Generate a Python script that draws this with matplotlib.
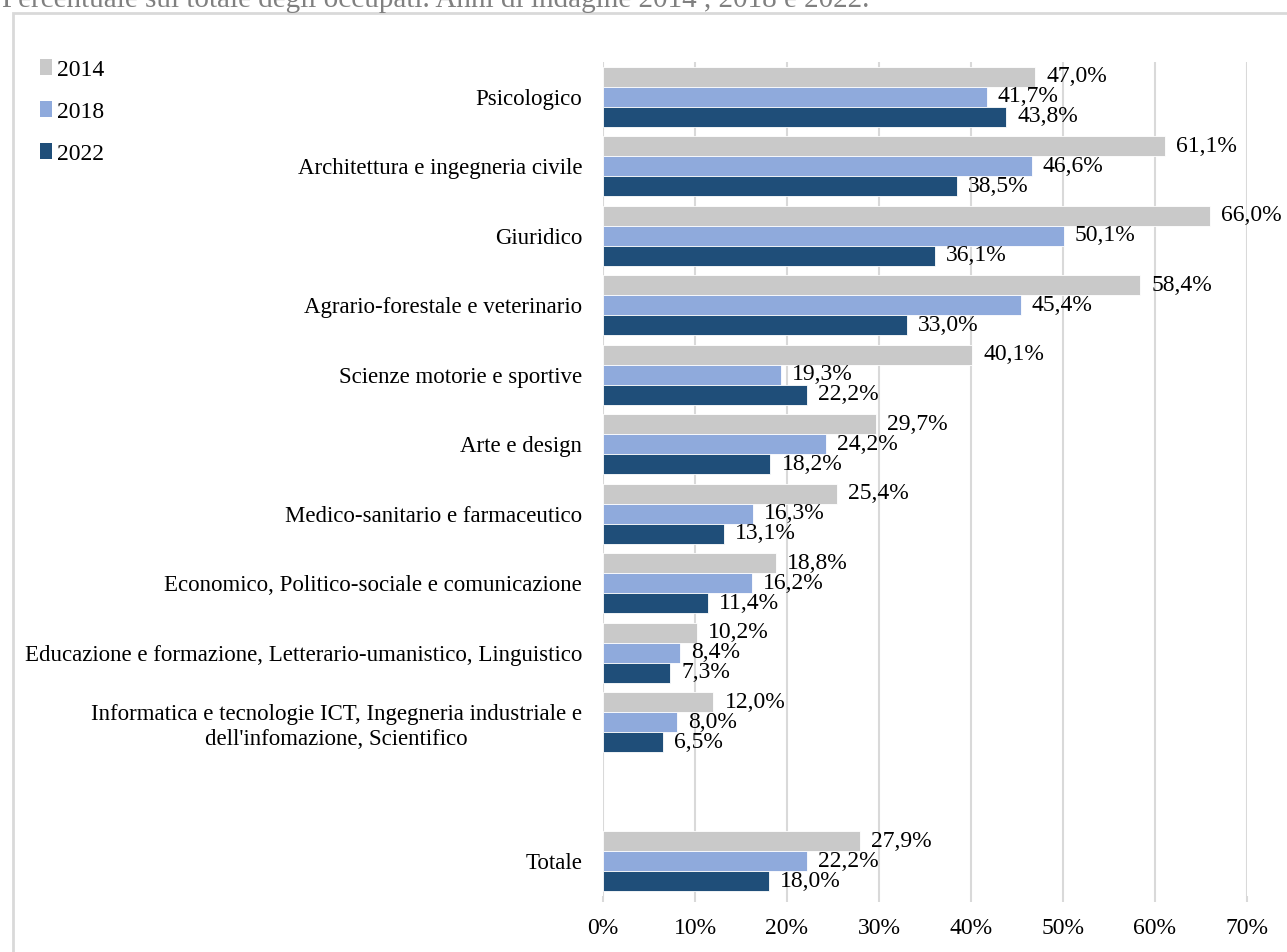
import matplotlib
matplotlib.use('Agg')
import matplotlib.pyplot as plt
from matplotlib.patches import Rectangle, Patch
import numpy as np

plt.rcParams['font.family'] = ['Liberation Serif', 'DejaVu Serif']

categories = [
    'Psicologico',
    'Architettura e ingegneria civile',
    'Giuridico',
    'Agrario-forestale e veterinario',
    'Scienze motorie e sportive',
    'Arte e design',
    'Medico-sanitario e farmaceutico',
    'Economico, Politico-sociale e comunicazione',
    'Educazione e formazione, Letterario-umanistico, Linguistico',
    "Informatica e tecnologie ICT, Ingegneria industriale e\ndell'infomazione, Scientifico",
    '',
    'Totale',
]
years = ['2014', '2018', '2022']
v2014 = [47.0, 61.1, 66.0, 58.4, 40.1, 29.7, 25.4, 18.8, 10.2, 12.0, None, 27.9]
v2018 = [41.7, 46.6, 50.1, 45.4, 19.3, 24.2, 16.3, 16.2, 8.4, 8.0, None, 22.2]
v2022 = [43.8, 38.5, 36.1, 33.0, 22.2, 18.2, 13.1, 11.4, 7.3, 6.5, None, 18.0]
colors = ['#c9c9c9', '#8faadc', '#1f4e79']
xticks = [0, 10, 20, 30, 40, 50, 60, 70]

W, H = 1287, 952
fig = plt.figure(figsize=(W / 100, H / 100), dpi=100)
ax = fig.add_axes([603 / W, 1 - 896 / H, (1247 - 603) / W, (896 - 62) / H])

bh = 0.29
y = np.arange(len(categories))
for k, (vals, col) in enumerate(zip([v2014, v2018, v2022], colors)):
    off = (k - 1) * bh
    for i, v in enumerate(vals):
        if v is None:
            continue
        ax.barh(y[i] + off, v, height=bh, color=col, edgecolor='white',
                linewidth=0.6, zorder=3)
        ax.annotate(f'{v:.1f}%'.replace('.', ','), (v, y[i] + off),
                    xytext=(8, 0), textcoords='offset points',
                    ha='left', va='center', fontsize=17, color='black',
                    zorder=4)

ax.set_xlim(0, 70)
ax.set_ylim(len(categories) - 0.5, -0.5)
ax.set_xticks(xticks)
ax.set_xticklabels([f'{t}%' for t in xticks], fontsize=17)
ax.set_yticks(y)
ax.set_yticklabels(categories, fontsize=16.5, multialignment='center',
                   linespacing=1.25)
ax.tick_params(axis='y', length=0, pad=15)
ax.tick_params(axis='x', length=4, color='#d9d9d9', width=1.5, pad=12)
ax.grid(axis='x', color='#d9d9d9', linewidth=1.5, zorder=0)
ax.set_axisbelow(True)
for s in ax.spines.values():
    s.set_visible(False)

handles = [Patch(facecolor=c, edgecolor='none') for c in colors]
fig.legend(handles, years, loc='upper left',
           bbox_to_anchor=(31 / W, 1 - 50 / H), frameon=False, fontsize=17,
           handlelength=0.5, handleheight=0.65, handletextpad=0.2,
           labelspacing=0.88, borderaxespad=0)

# outer frame and the clipped caption above it
fig.patches.append(Rectangle((13 / W, -0.05), 1.1, 1 - 13 / H + 0.05,
                             transform=fig.transFigure, fill=False,
                             edgecolor='#d9d9d9', linewidth=2))
fig.text(2 / W, 1 - 7 / H,
         'Percentuale sul totale degli occupati. Anni di indagine 2014 , 2018 e 2022.',
         fontsize=21, color='#808080', va='baseline', ha='left')

fig.savefig('out.png', dpi=100)
